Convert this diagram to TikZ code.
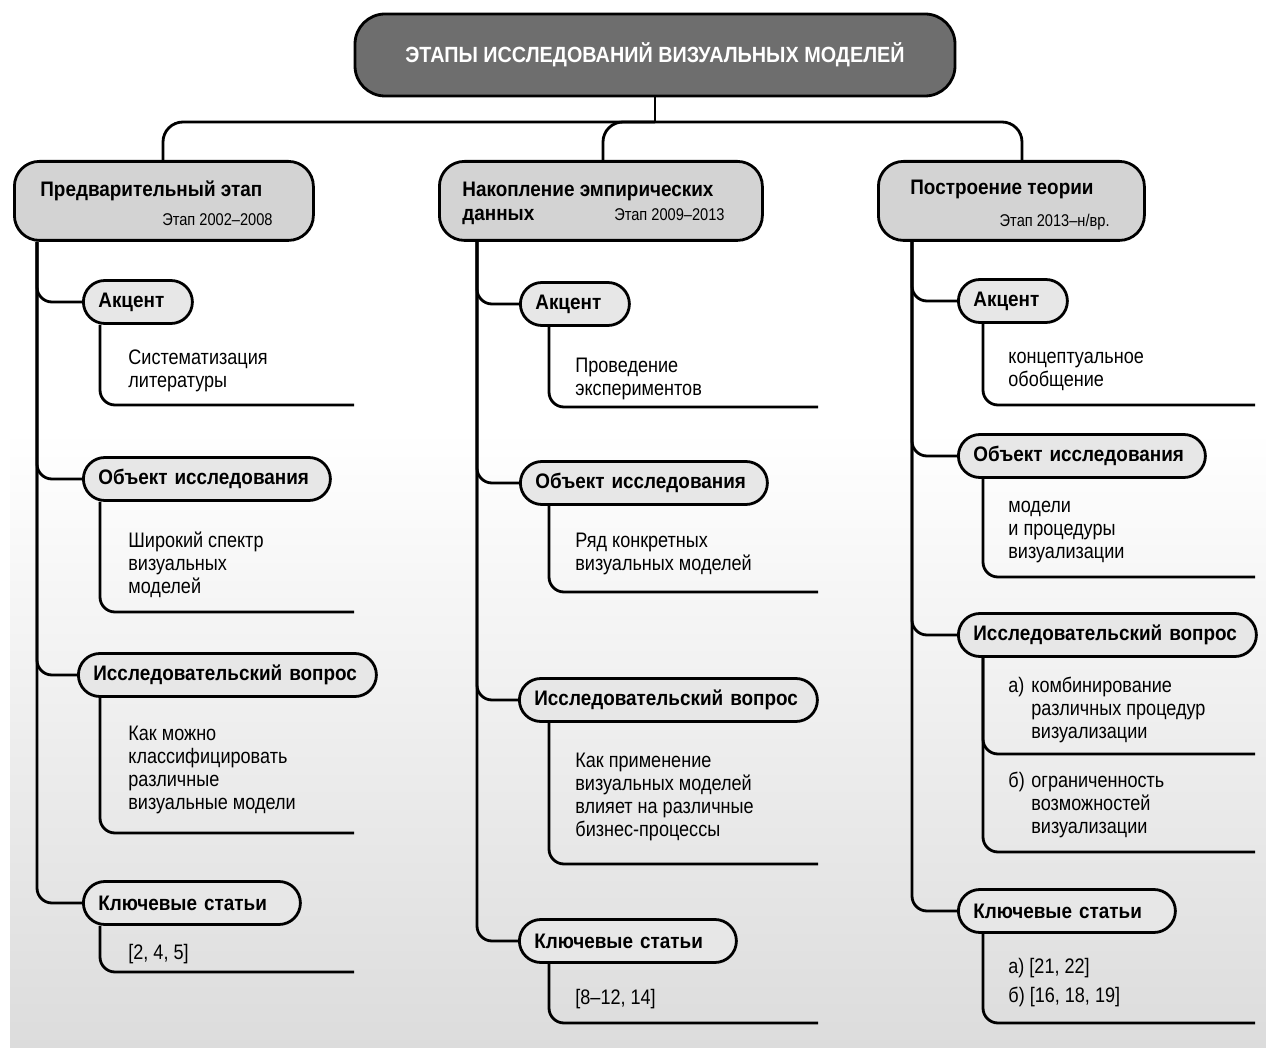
\documentclass[tikz,border=0pt]{standalone}
\usepackage{fontspec}
\setmainfont{Liberation Sans}[UprightFeatures={FakeStretch=0.86},BoldFeatures={FakeStretch=0.9}]

\definecolor{titlegray}{HTML}{6E6E6E}
\definecolor{phasegray}{HTML}{D3D3D3}
\definecolor{itemgray}{HTML}{E7E7E7}
\definecolor{bggray}{HTML}{DCDCDC}

\tikzset{
  link/.style={line width=1.4pt, rounded corners=7.5pt},
  titlebox/.style={draw, line width=1.4pt, fill=titlegray, text=white, rounded corners=15pt,
    minimum width=300pt, minimum height=41pt, font=\fontsize{11}{13}\selectfont\bfseries},
  phasebox/.style={draw, line width=1.4pt, fill=phasegray, rounded corners=12.5pt,
    minimum height=39.5pt, anchor=north west, inner sep=0pt},
  phasehead/.style={anchor=base west, inner sep=0pt, align=left, font=\fontsize{10.5}{12}\selectfont\bfseries},
  phasedate/.style={anchor=base east, inner sep=0pt, font=\fontsize{8.5}{10}\selectfont},
  itembox/.style={draw, line width=1.4pt, fill=itemgray, rounded corners=10.75pt, minimum height=21.5pt,
    inner xsep=7.5pt, inner ysep=0pt, anchor=west, align=left, font=\fontsize{10.5}{12}\selectfont\bfseries},
  accent/.style={itembox, text width=39.5pt},
  objectbox/.style={itembox, text width=108.5pt},
  question/.style={itembox, text width=134pt},
  papers/.style={itembox, text width=93.5pt},
  % anchored on the baseline of the last line
  bodytext/.style={anchor=base west, inner sep=0pt, align=left, font=\fontsize{10.5}{11.5}\selectfont},
}

\begin{document}
\begin{tikzpicture}[x=0.5pt, y=-0.5pt]
\useasboundingbox (0,0) rectangle (1266,1048);
\shade[top color=white, bottom color=bggray] (10,430) rectangle (1266,1048);

% title and the three stages
\node[titlebox] (tt) at (655,55) {ЭТАПЫ ИССЛЕДОВАНИЙ ВИЗУАЛЬНЫХ МОДЕЛЕЙ};
\node[phasebox, minimum width=149.5pt] (ph1) at (13,160) {};
\node[phasebox, minimum width=161.5pt] (ph2) at (438,160) {};
\node[phasebox, minimum width=133pt] (ph3) at (877,160) {};
\node[phasehead] (ph1t) at (40,197) {Предварительный этап};
\node[phasedate] (ph1d) at (273,226) {Этап 2002–2008};
\node[phasehead] (ph2t) at (462,221) {Накопление эмпирических\\данных};
\node[phasedate] (ph2d) at (725,221) {Этап 2009–2013};
\node[phasehead] (ph3t) at (910,195) {Построение теории};
\node[phasedate] (ph3d) at (1110,227) {Этап 2013–н/вр.};

\coordinate (hub) at (655,122);
\coordinate (t1) at (163,0); \coordinate (t2) at (603,0); \coordinate (t3) at (1022,0);
\coordinate (m1) at (37,0);  \coordinate (m2) at (477,0); \coordinate (m3) at (912,0);
\coordinate (v1) at (100,0); \coordinate (v2) at (549,0); \coordinate (v3) at (983,0);

% first column
\node[accent] (i11) at (82,302) {Акцент};
\node[objectbox] (i12) at (82,479) {Объект исследования};
\node[question] (i13) at (77,675) {Исследовательский вопрос};
\node[papers] (i14) at (82,903) {Ключевые статьи};
\node[bodytext] (b11) at (128,388) {Систематизация\\литературы};
\node[bodytext] (b12) at (128,594) {Широкий спектр\\визуальных\\моделей};
\node[bodytext] (b13) at (128,809) {Как можно\\классифицировать\\различные\\визуальные модели};
\node[bodytext] (b14) at (128,959) {[2, 4, 5]};
\coordinate (e11) at (354,405); \coordinate (e12) at (354,612);
\coordinate (e13) at (354,833); \coordinate (e14) at (354,972);

% second column
\node[accent] (i21) at (519,304) {Акцент};
\node[objectbox] (i22) at (519,483) {Объект исследования};
\node[question] (i23) at (518,700) {Исследовательский вопрос};
\node[papers] (i24) at (518,941) {Ключевые статьи};
\node[bodytext] (b21) at (575,396) {Проведение\\экспериментов};
\node[bodytext] (b22) at (575,571) {Ряд конкретных\\визуальных моделей};
\node[bodytext] (b23) at (575,836) {Как применение\\визуальных моделей\\влияет на различные\\бизнес-процессы};
\node[bodytext] (b24) at (575,1004) {[8–12, 14]};
\coordinate (e21) at (818,407); \coordinate (e22) at (818,592);
\coordinate (e23) at (818,864); \coordinate (e24) at (818,1023);

% third column
\node[accent] (i31) at (957,301) {Акцент};
\node[objectbox] (i32) at (957,456) {Объект исследования};
\node[question] (i33) at (957,635) {Исследовательский вопрос};
\node[papers] (i34) at (957,911) {Ключевые статьи};
\node[bodytext] (b31) at (1008,387) {концептуальное\\обобщение};
\node[bodytext] (b32) at (1008,559) {модели\\и процедуры\\визуализации};
\node[bodytext] (b33) at (1008,693) {\begin{tabular}[t]{@{}p{11.5pt}@{}l@{}}а) & комбинирование\\ & различных процедур\\ & визуализации\end{tabular}};
\node[bodytext] (b33b) at (1008,788) {\begin{tabular}[t]{@{}p{11.5pt}@{}l@{}}б) & ограниченность\\ & возможностей\\ & визуализации\end{tabular}};
\node[bodytext] (b34) at (1008,1002) {а) [21, 22]\\[3pt]б) [16, 18, 19]};
\coordinate (e31) at (1255,405); \coordinate (e32) at (1255,577);
\coordinate (e33) at (1255,852); \coordinate (e33b) at (1255,754);
\coordinate (e34) at (1255,1023);

% connectors
\draw[link] (tt.south) -- (hub);
\draw[link, rounded corners=10pt] (ph1.north -| t1) |- (hub) -| (ph3.north -| t3);
\draw[link, rounded corners=10pt] (ph2.north -| t2) |- (hub);
\foreach \c in {1,2,3}
  \foreach \i in {1,...,4} {
    \draw[link] (ph\c.south -| m\c) |- (i\c\i.west);
    \draw[link] (i\c\i.south -| v\c) |- (e\c\i);
  }
\draw[link] (i33.south -| v3) |- (e33b);
\end{tikzpicture}
\end{document}
